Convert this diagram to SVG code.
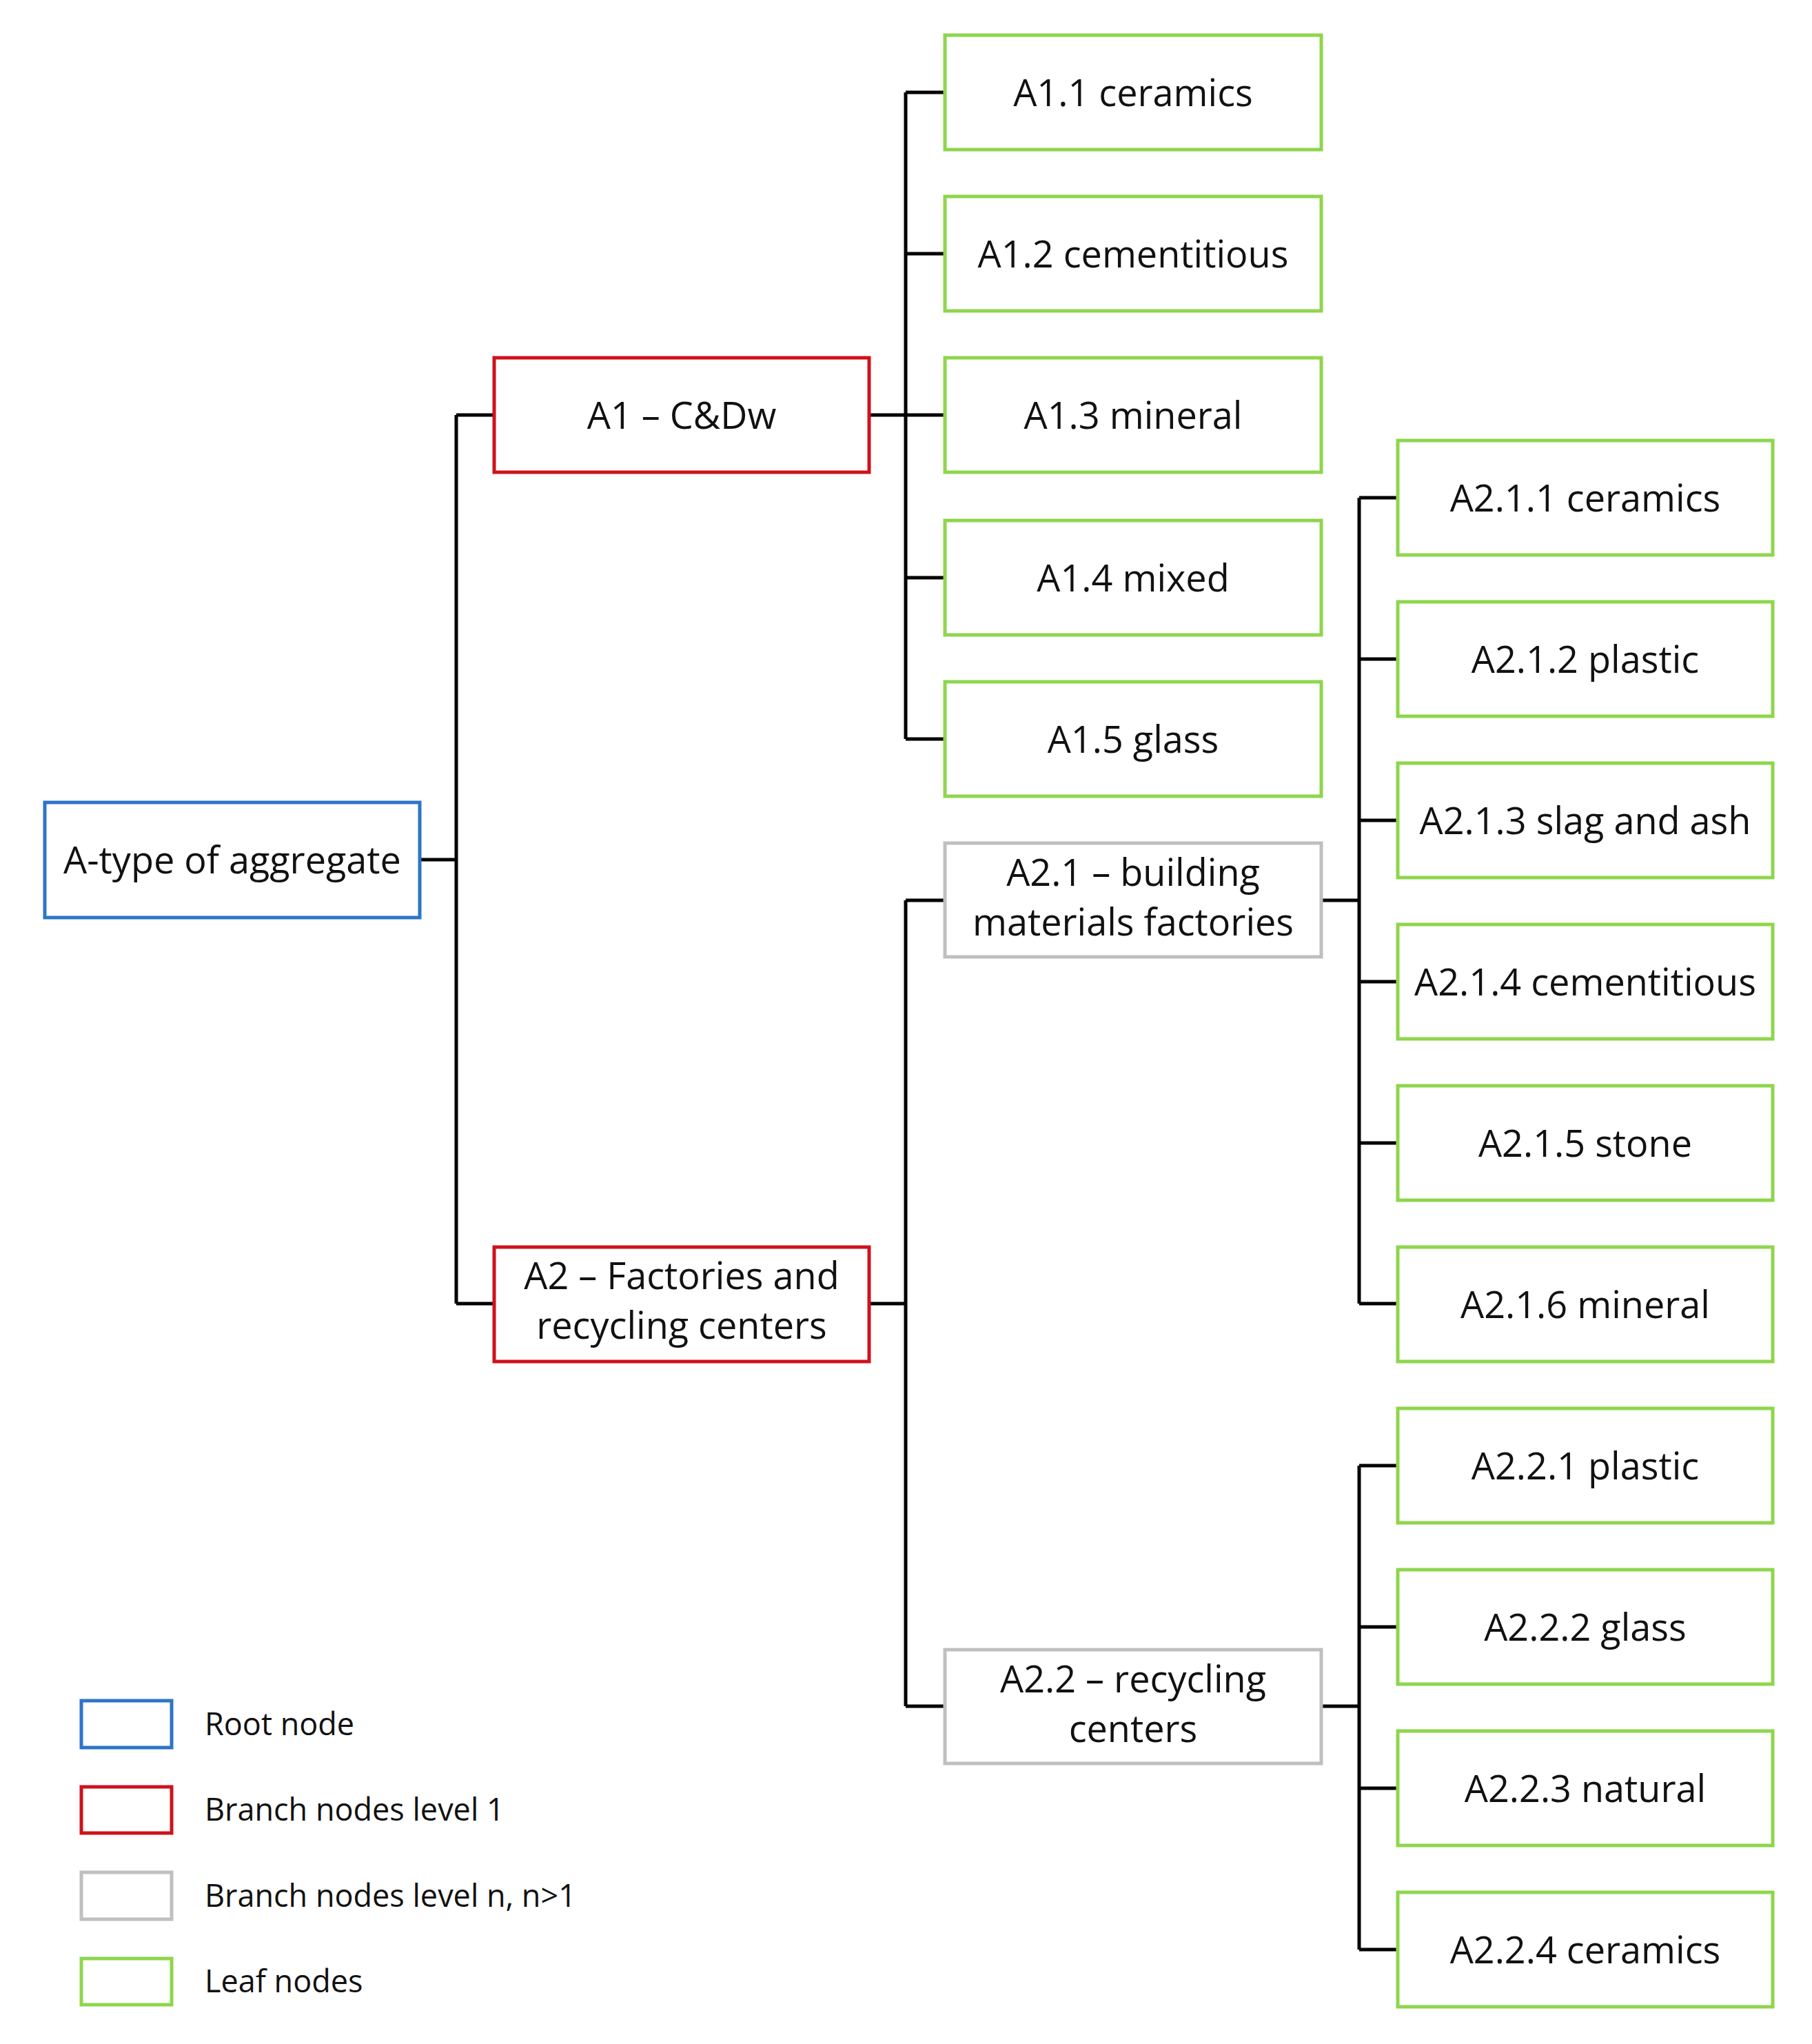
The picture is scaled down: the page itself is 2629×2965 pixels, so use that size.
<svg xmlns="http://www.w3.org/2000/svg" width="2629" height="2965" viewBox="0 0 2629 2965">
<style>
rect{fill:#fff;stroke-width:5}
.root{stroke:#2e75c8}.b1{stroke:#d0121b}.bn{stroke:#bfbfbf}.leaf{stroke:#8ed64c}
text{font-family:"Open Sans","Liberation Sans",sans-serif;font-size:54px;fill:#111;text-anchor:middle}
.lg{font-size:45px;text-anchor:start}
#connectors path{fill:none;stroke:#000;stroke-width:5}
</style>
<g id="connectors">
<path d="M609 1247H662M662 602V1891M662 602H717M662 1891H717"/>
<path d="M1261 602H1314M1314 134V1072M1314 134H1371M1314 368H1371M1314 602H1371M1314 838H1371M1314 1072H1371"/>
<path d="M1261 1891H1314M1314 1306V2475M1314 1306H1371M1314 2475H1371"/>
<path d="M1917 1306H1972M1972 722V1891M1972 722H2028M1972 956H2028M1972 1190H2028M1972 1424H2028M1972 1658H2028M1972 1891H2028"/>
<path d="M1917 2475H1972M1972 2126V2828M1972 2126H2028M1972 2360H2028M1972 2594H2028M1972 2828H2028"/>
</g>
<g id="root"><rect class="root" x="65" y="1164" width="544" height="167"/><text x="337" y="1267">A-type of aggregate</text></g>
<g id="A1"><rect class="b1" x="717" y="519" width="544" height="166"/><text x="989" y="622">A1 – C&amp;Dw</text></g>
<g id="A2"><rect class="b1" x="717" y="1809" width="544" height="166"/><text x="989" y="1870">A2 – Factories and</text><text x="989" y="1942">recycling centers</text></g>
<g id="A1.1"><rect class="leaf" x="1371" y="51" width="546" height="166"/><text x="1644" y="154">A1.1 ceramics</text></g>
<g id="A1.2"><rect class="leaf" x="1371" y="285" width="546" height="166"/><text x="1644" y="388">A1.2 cementitious</text></g>
<g id="A1.3"><rect class="leaf" x="1371" y="519" width="546" height="166"/><text x="1644" y="622">A1.3 mineral</text></g>
<g id="A1.4"><rect class="leaf" x="1371" y="755" width="546" height="166"/><text x="1644" y="858">A1.4 mixed</text></g>
<g id="A1.5"><rect class="leaf" x="1371" y="989" width="546" height="166"/><text x="1644" y="1092">A1.5 glass</text></g>
<g id="A2.1"><rect class="bn" x="1371" y="1223" width="546" height="165"/><text x="1644" y="1285">A2.1 – building</text><text x="1644" y="1357">materials factories</text></g>
<g id="A2.2"><rect class="bn" x="1371" y="2393" width="546" height="165"/><text x="1644" y="2455">A2.2 – recycling</text><text x="1644" y="2527">centers</text></g>
<g id="A2.1.1"><rect class="leaf" x="2028" y="639" width="544" height="166"/><text x="2300" y="742">A2.1.1 ceramics</text></g>
<g id="A2.1.2"><rect class="leaf" x="2028" y="873" width="544" height="166"/><text x="2300" y="976">A2.1.2 plastic</text></g>
<g id="A2.1.3"><rect class="leaf" x="2028" y="1107" width="544" height="166"/><text x="2300" y="1210">A2.1.3 slag and ash</text></g>
<g id="A2.1.4"><rect class="leaf" x="2028" y="1341" width="544" height="166"/><text x="2300" y="1444">A2.1.4 cementitious</text></g>
<g id="A2.1.5"><rect class="leaf" x="2028" y="1575" width="544" height="166"/><text x="2300" y="1678">A2.1.5 stone</text></g>
<g id="A2.1.6"><rect class="leaf" x="2028" y="1809" width="544" height="166"/><text x="2300" y="1912">A2.1.6 mineral</text></g>
<g id="A2.2.1"><rect class="leaf" x="2028" y="2043" width="544" height="166"/><text x="2300" y="2146">A2.2.1 plastic</text></g>
<g id="A2.2.2"><rect class="leaf" x="2028" y="2277" width="544" height="166"/><text x="2300" y="2380">A2.2.2 glass</text></g>
<g id="A2.2.3"><rect class="leaf" x="2028" y="2511" width="544" height="166"/><text x="2300" y="2614">A2.2.3 natural</text></g>
<g id="A2.2.4"><rect class="leaf" x="2028" y="2745" width="544" height="166"/><text x="2300" y="2848">A2.2.4 ceramics</text></g>
<g id="legend">
<rect class="root" x="118" y="2467" width="131" height="68"/><text class="lg" x="297" y="2517">Root node</text>
<rect class="b1" x="118" y="2592" width="131" height="67"/><text class="lg" x="297" y="2641">Branch nodes level 1</text>
<rect class="bn" x="118" y="2716" width="131" height="68"/><text class="lg" x="297" y="2766">Branch nodes level n, n&gt;1</text>
<rect class="leaf" x="118" y="2841" width="131" height="67"/><text class="lg" x="297" y="2890">Leaf nodes</text>
</g>
</svg>
